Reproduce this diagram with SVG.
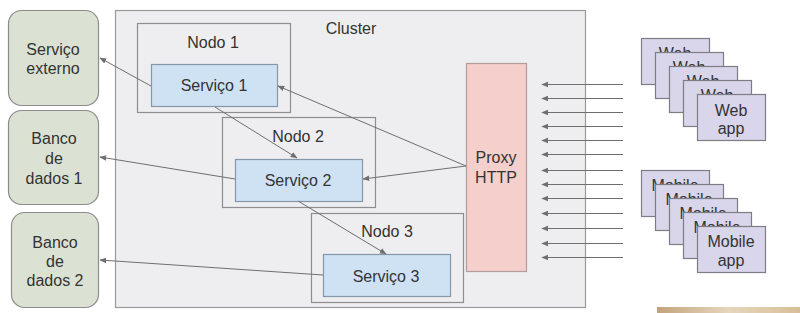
<svg xmlns="http://www.w3.org/2000/svg" width="800" height="313" viewBox="0 0 800 313">
<defs>
<style>
text{font-family:"Liberation Sans",Arial,sans-serif;font-size:16px;fill:#333;text-anchor:middle}
.ext{fill:#dce2d3;stroke:#8c8c8c;stroke-width:1.2}
.node{fill:none;stroke:#8e8e8e;stroke-width:1.2}
.svc{fill:#cfe2f3;stroke:#8797ab;stroke-width:1.2}
.app{fill:#d9d5ea;stroke:#7d7d86;stroke-width:1.2}
.c{stroke:#6f6f6f;stroke-width:1;fill:none;marker-end:url(#ah)}
</style>
<marker id="ah" viewBox="0 0 10 10" refX="9" refY="5" markerWidth="7" markerHeight="7" orient="auto" markerUnits="userSpaceOnUse">
<path d="M0,1 L10,5 L0,9 z" fill="#6f6f6f"/>
</marker>
<linearGradient id="g" x1="0" y1="0" x2="1" y2="0">
<stop offset="0" stop-color="#c3a37c"/>
<stop offset="0.5" stop-color="#e6d6bd"/>
<stop offset="1" stop-color="#d8bf98"/>
</linearGradient>
</defs>
<rect width="800" height="313" fill="#ffffff"/>

<g id="cluster">
<rect x="115.5" y="10.5" width="470" height="297" fill="#eeeef0" stroke="#9a9a9a" stroke-width="1.2"/>
<text x="351" y="34">Cluster</text>
</g>

<g id="servico-externo">
<rect class="ext" x="8.5" y="10.5" width="90" height="95" rx="13"/>
<text x="53" y="55">Serviço</text>
<text x="53" y="74">externo</text>
</g>
<g id="banco-1">
<rect class="ext" x="8.5" y="110.5" width="90" height="94" rx="13"/>
<text x="54" y="144">Banco</text>
<text x="54" y="164">de</text>
<text x="54" y="184">dados 1</text>
</g>
<g id="banco-2">
<rect class="ext" x="11.5" y="212.5" width="87" height="95" rx="13"/>
<text x="55" y="248">Banco</text>
<text x="55" y="267">de</text>
<text x="55" y="286">dados 2</text>
</g>

<g id="nodo-1">
<rect class="node" x="137.5" y="23.5" width="153" height="89"/>
<text x="213" y="48">Nodo 1</text>
</g>
<g id="nodo-2">
<rect class="node" x="222.5" y="117.5" width="153" height="90"/>
<text x="298" y="142">Nodo 2</text>
</g>
<g id="nodo-3">
<rect class="node" x="311.5" y="213.5" width="152" height="89"/>
<text x="387" y="237">Nodo 3</text>
</g>

<g id="servico-1">
<rect class="svc" x="151.5" y="64.5" width="126" height="42"/>
<text x="214" y="91">Serviço 1</text>
</g>
<g id="servico-2">
<rect class="svc" x="235.5" y="159.5" width="127" height="42"/>
<text x="298" y="186">Serviço 2</text>
</g>
<g id="servico-3">
<rect class="svc" x="323.5" y="254.5" width="127" height="42"/>
<text x="386" y="282">Serviço 3</text>
</g>

<g id="proxy">
<rect x="466.5" y="63.5" width="60" height="208" fill="#f4cfcc" stroke="#b39c9a" stroke-width="1.2"/>
<text x="496" y="163">Proxy</text>
<text x="496" y="183">HTTP</text>
</g>

<g id="web-apps">
<g id="web-1"><rect class="app" x="641.5" y="38.5" width="68" height="46"/><text x="675" y="59">Web</text></g>
<g id="web-2"><rect class="app" x="655.5" y="52.5" width="68" height="46"/><text x="689" y="73">Web</text></g>
<g id="web-3"><rect class="app" x="669.5" y="66.5" width="68" height="46"/><text x="703" y="87">Web</text></g>
<g id="web-4"><rect class="app" x="683.5" y="80.5" width="68" height="46"/><text x="717" y="101">Web</text></g>
<g id="web-5"><rect class="app" x="697.5" y="94.5" width="68" height="46"/><text x="731" y="116">Web</text><text x="731" y="134">app</text></g>
</g>
<g id="mobile-apps">
<g id="mobile-1"><rect class="app" x="641.5" y="170.5" width="68" height="46"/><text x="675" y="191">Mobile</text></g>
<g id="mobile-2"><rect class="app" x="655.5" y="184.5" width="68" height="46"/><text x="689" y="205">Mobile</text></g>
<g id="mobile-3"><rect class="app" x="669.5" y="198.5" width="68" height="46"/><text x="703" y="219">Mobile</text></g>
<g id="mobile-4"><rect class="app" x="683.5" y="212.5" width="68" height="46"/><text x="717" y="233">Mobile</text></g>
<g id="mobile-5"><rect class="app" x="697.5" y="226.5" width="68" height="46"/><text x="731" y="247">Mobile</text><text x="731" y="266">app</text></g>
</g>

<g id="connectors">
<path class="c" d="M151,86 L100,58"/>
<path class="c" d="M215,107 L297,158"/>
<path class="c" d="M235,179 L100,157"/>
<path class="c" d="M466,166 L278,86"/>
<path class="c" d="M466,166 L363,179"/>
<path class="c" d="M298,201 L386,254"/>
<path class="c" d="M323,275 L100,260"/>
<path class="c" d="M623,84.5 L542,84.5"/>
<path class="c" d="M623,98.5 L542,98.5"/>
<path class="c" d="M623,112.5 L542,112.5"/>
<path class="c" d="M623,126.5 L542,126.5"/>
<path class="c" d="M623,140.5 L542,140.5"/>
<path class="c" d="M623,154.5 L542,154.5"/>
<path class="c" d="M623,170.5 L542,170.5"/>
<path class="c" d="M623,184.5 L542,184.5"/>
<path class="c" d="M623,198.5 L542,198.5"/>
<path class="c" d="M623,213.5 L542,213.5"/>
<path class="c" d="M623,228.5 L542,228.5"/>
<path class="c" d="M623,243.5 L542,243.5"/>
<path class="c" d="M623,257.5 L542,257.5"/>
</g>

<rect x="657" y="307" width="143" height="6" fill="url(#g)"/>
</svg>
